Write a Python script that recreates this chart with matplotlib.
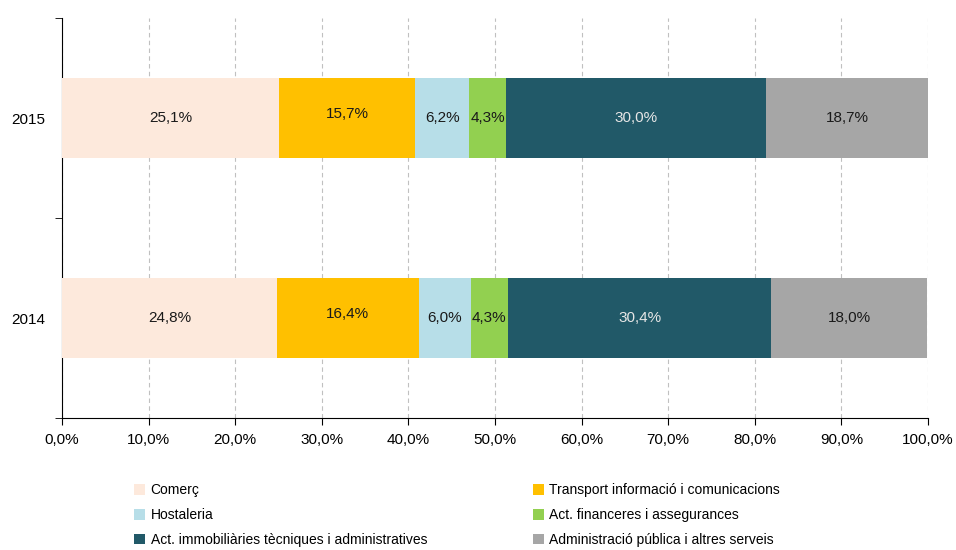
import matplotlib.pyplot as plt
from matplotlib.ticker import FixedLocator, FuncFormatter

years = ["2014", "2015"]
sectors = [
    "Comerç",
    "Transport informació i comunicacions",
    "Hostaleria",
    "Act. financeres i assegurances",
    "Act. immobiliàries tècniques i administratives",
    "Administració pública i altres serveis",
]
values_2014 = [24.8, 16.4, 6.0, 4.3, 30.4, 18.0]
values_2015 = [25.1, 15.7, 6.2, 4.3, 30.0, 18.7]
colors = ["#FDE9DC", "#FFC000", "#B7DEE8", "#92D050", "#215968", "#A6A6A6"]
text_colors = ["#1a1a1a", "#1a1a1a", "#1a1a1a", "#1a1a1a", "#e6e6e6", "#1a1a1a"]

plt.rcParams["font.family"] = ["Liberation Sans Narrow", "Liberation Sans", "DejaVu Sans"]

fig = plt.figure(figsize=(9.56, 5.5), dpi=100)
ax = fig.add_axes([0.0649, 0.24, 0.9058, 0.727])

data = [values_2014, values_2015]
left = [0.0, 0.0]
handles = []
for j, name in enumerate(sectors):
    vals = [data[0][j], data[1][j]]
    bars = ax.barh(range(len(years)), vals, left=left, height=0.4,
                   color=colors[j], label=name, zorder=3)
    handles.append(bars)
    for i, b in enumerate(bars):
        dy = 0.02 if j == 1 else 0.0
        ax.text(b.get_x() + b.get_width() / 2, b.get_y() + b.get_height() / 2 + dy,
                f"{vals[i]:.1f}%".replace(".", ","), ha="center", va="center",
                fontsize=11, color=text_colors[j], zorder=4)
    left = [left[0] + vals[0], left[1] + vals[1]]

ax.set_xlim(0, 100)
ax.set_ylim(-0.5, 1.5)
ax.set_xticks(range(0, 101, 10))
ax.xaxis.set_major_formatter(FuncFormatter(lambda v, p: f"{v:.1f}%".replace(".", ",")))
ax.set_yticks(range(len(years)))
ax.set_yticklabels(years)
ax.yaxis.set_minor_locator(FixedLocator([-0.5, 0.5, 1.5]))
ax.tick_params(axis="y", which="major", length=0, pad=12, labelsize=11)
ax.tick_params(axis="y", which="minor", length=5, direction="out")
ax.tick_params(axis="x", length=5, labelsize=11, pad=6)
ax.grid(axis="x", color="#c0c0c0", linestyle=(0, (4, 3)), linewidth=0.8, zorder=0)
for s in ["top", "right"]:
    ax.spines[s].set_visible(False)

order = [0, 2, 4, 1, 3, 5]
fig.legend([handles[k] for k in order], [sectors[k] for k in order],
           loc="lower left", bbox_to_anchor=(0.13, -0.012), ncol=2, frameon=False,
           fontsize=10, handlelength=0.8, handleheight=0.8, handletextpad=0.4,
           labelspacing=0.78, columnspacing=7.6, borderpad=0.2)

fig.savefig("out.png", dpi=100)
